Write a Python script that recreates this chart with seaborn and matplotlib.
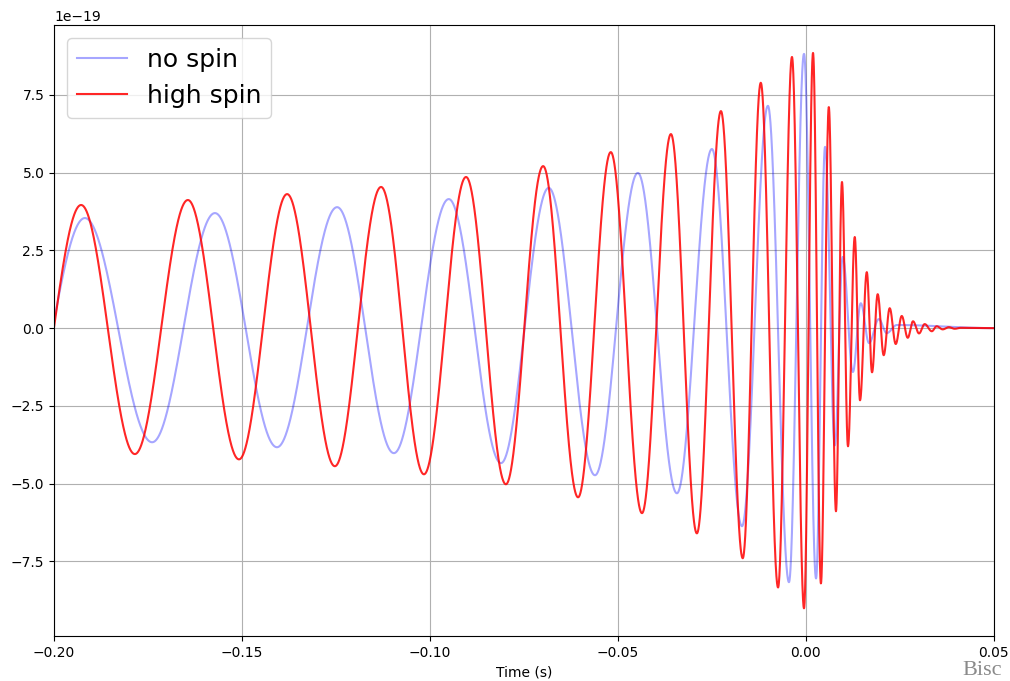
import numpy as np
import pandas as pd
import matplotlib
matplotlib.use("Agg")
import matplotlib.pyplot as plt
import seaborn as sns

# ---- data (extrema of each waveform; strain in units of 1e-19) ----
SCALE = 1e-19
t_start, t_end = -0.20, 0.05

nospin_t = [-0.2090, -0.1918, -0.1739, -0.1572, -0.1407, -0.1247, -0.1096, -0.0950,
            -0.0811, -0.0684, -0.0561, -0.0447, -0.0343, -0.0250, -0.0170, -0.0101,
            -0.0045, -0.0005, 0.0027, 0.0051, 0.0077, 0.0098, 0.0125, 0.0146,
            0.0168, 0.0194, 0.0215, 0.0242, 0.0500]
nospin_v = [-3.60, 3.54, -3.67, 3.70, -3.83, 3.89, -4.02, 4.15,
            -4.34, 4.51, -4.73, 4.99, -5.31, 5.76, -6.37, 7.15,
            -8.17, 8.82, -8.05, 5.83, -3.77, 2.29, -1.41, 0.80,
            -0.48, 0.29, -0.16, 0.10, 0.00]

highspin_t = [-0.2072, -0.1928, -0.1785, -0.1644, -0.1508, -0.1380, -0.1253, -0.1130,
              -0.1016, -0.0904, -0.0798, -0.0699, -0.0606, -0.0519, -0.0436, -0.0359,
              -0.0290, -0.0226, -0.0168, -0.0120, -0.0074, -0.0037, -0.0005, 0.0019,
              0.0040, 0.0061, 0.0080, 0.0096, 0.0112, 0.0130, 0.0144, 0.0162,
              0.0176, 0.0191, 0.0207, 0.0223, 0.0239, 0.0255, 0.0271, 0.0285,
              0.0301, 0.0316, 0.0335, 0.0348, 0.0364, 0.0380, 0.0396, 0.0412, 0.0500]
highspin_v = [-3.90, 3.96, -4.05, 4.12, -4.22, 4.31, -4.44, 4.54,
              -4.70, 4.86, -5.02, 5.21, -5.44, 5.66, -5.95, 6.24,
              -6.60, 6.98, -7.40, 7.89, -8.34, 8.72, -9.01, 8.85,
              -8.21, 7.11, -5.89, 4.70, -3.80, 2.93, -2.32, 1.80,
              -1.42, 1.09, -0.87, 0.64, -0.51, 0.39, -0.31, 0.22,
              -0.17, 0.13, -0.10, 0.06, -0.04, 0.03, -0.02, 0.01, 0.00]

series_names = ["no spin", "high spin"]


def trace(tk, vk, n=6000):
    """Smooth oscillation through the read extrema (half-cosine between neighbours)."""
    tk = np.asarray(tk)
    vk = np.asarray(vk)
    t = np.linspace(t_start, t_end, n)
    i = np.clip(np.searchsorted(tk, t, side="right") - 1, 0, len(tk) - 2)
    s = (t - tk[i]) / (tk[i + 1] - tk[i])
    w = (1 - np.cos(np.pi * s)) / 2
    return t, (vk[i] + (vk[i + 1] - vk[i]) * w) * SCALE


t1, h1 = trace(nospin_t, nospin_v)
t2, h2 = trace(highspin_t, highspin_v)
df1 = pd.DataFrame({"Time (s)": t1, "strain": h1})
df2 = pd.DataFrame({"Time (s)": t2, "strain": h2})

fig, ax = plt.subplots(figsize=(10.1, 6.81), dpi=100)
fig.subplots_adjust(left=0.0535, right=0.984, top=0.963, bottom=0.066)

sns.lineplot(data=df1, x="Time (s)", y="strain", ax=ax, color="b", alpha=0.35,
             lw=1.5, label=series_names[0], estimator=None, sort=False)
sns.lineplot(data=df2, x="Time (s)", y="strain", ax=ax, color="r", alpha=0.85,
             lw=1.5, label=series_names[1], estimator=None, sort=False)

ax.set_xlim(t_start, t_end)
ax.set_ylabel("")
ax.set_xlabel("Time (s)")
ax.grid(True)
ax.legend(loc="upper left", fontsize=18)

fig.text(0.953, 0.002, "Bisc", family="Liberation Serif", fontsize=16,
         color="#8a8a8a", ha="left", va="bottom")

fig.savefig("out.png", dpi=100)
